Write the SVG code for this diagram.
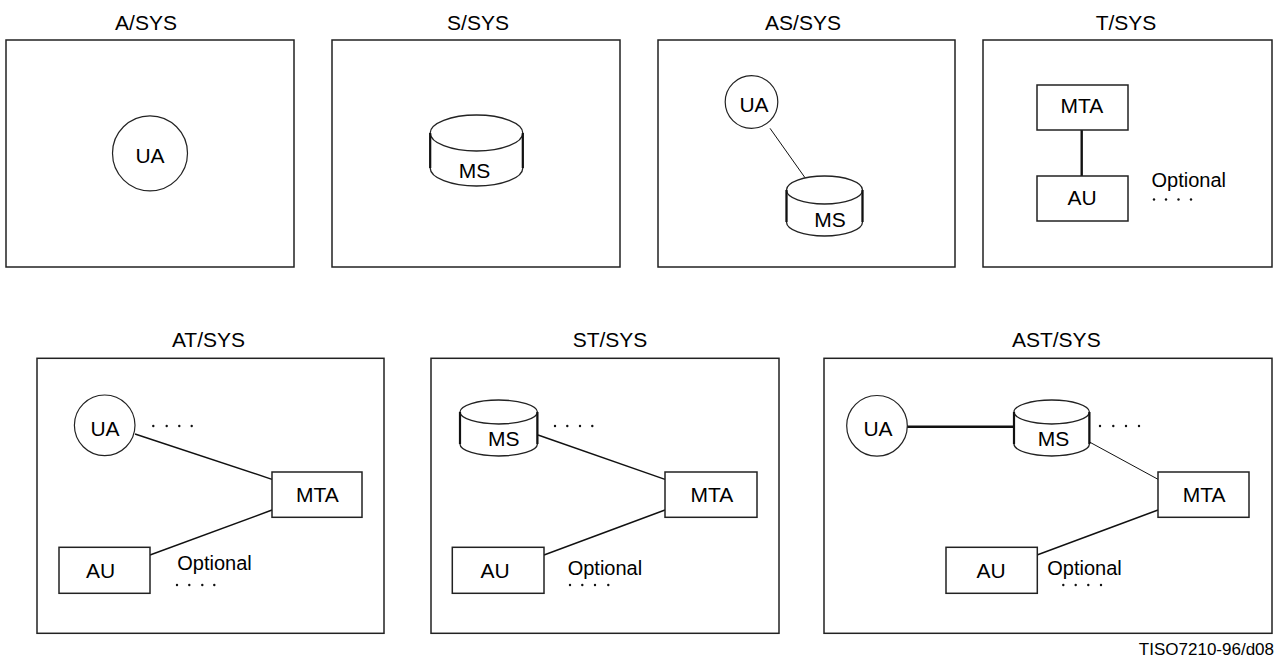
<svg xmlns="http://www.w3.org/2000/svg" width="1276" height="659" viewBox="0 0 1276 659">
<style>
text{font-family:"Liberation Sans",Arial,sans-serif;font-size:21px;fill:#000}
.c{text-anchor:middle}
.opt{font-size:20px}
.frame{fill:none;stroke:#222;stroke-width:1.5}
.box{fill:#fff;stroke:#222;stroke-width:1.5}
.ua{fill:#fff;stroke:#222;stroke-width:1.2}
.cyl{fill:#fff;stroke:#222;stroke-width:1.3}
.side{stroke:#111;stroke-width:2.2}
.ln{stroke:#111;stroke-width:1.4;fill:none}
.thin{stroke:#111;stroke-width:1;fill:none}
.thick{stroke:#111;stroke-width:2.4;fill:none}
.dot{fill:#111}
.foot{font-size:17px;text-anchor:end}
</style>
<rect width="1276" height="659" fill="#fff"/>

<g id="connectors">
<line class="thin" x1="770" y1="128.3" x2="805" y2="177.7"/>
<line class="thick" x1="1081.7" y1="130" x2="1081.7" y2="176"/>
<line class="ln" x1="135" y1="434" x2="272" y2="479.3"/>
<line class="ln" x1="272" y1="510" x2="150" y2="555"/>
<line class="ln" x1="538" y1="435" x2="665" y2="479.3"/>
<line class="ln" x1="665" y1="510" x2="544" y2="555"/>
<line class="thick" x1="907" y1="426.7" x2="1014" y2="426.7"/>
<line class="thin" x1="1090" y1="442.3" x2="1158" y2="479.3"/>
<line class="ln" x1="1158" y1="510" x2="1037" y2="555"/>
</g>

<g id="panel-a">
<text class="c" x="146" y="30">A/SYS</text>
<rect class="frame" x="6" y="40" width="288" height="227"/>
<g id="a-ua"><circle class="ua" cx="150" cy="153.3" r="37.5"/><text class="c" x="150" y="163">UA</text></g>
</g>

<g id="panel-s">
<text class="c" x="478" y="30">S/SYS</text>
<rect class="frame" x="332" y="40" width="288" height="227"/>
<g id="s-ms">
<path class="cyl" d="M430.2,133 L430.2,168 A46.3,18 0 0 0 522.8,168 L522.8,133"/>
<ellipse class="cyl" cx="476.5" cy="133" rx="46.3" ry="18"/>
<line class="side" x1="430.2" y1="133" x2="430.2" y2="168"/>
<line class="side" x1="522.8" y1="133" x2="522.8" y2="168"/>
<text class="c" x="474.5" y="178.3">MS</text>
</g>
</g>

<g id="panel-as">
<text class="c" x="803" y="30">AS/SYS</text>
<rect class="frame" x="658" y="40" width="297" height="227"/>
<g id="as-ua"><circle class="ua" cx="751.5" cy="102" r="26.3"/><text class="c" x="754" y="111.7">UA</text></g>
<g id="as-ms">
<path class="cyl" d="M786.5,190 L786.5,222 A38,14 0 0 0 862.5,222 L862.5,190"/>
<ellipse class="cyl" cx="824.5" cy="190" rx="38" ry="14"/>
<line class="side" x1="786.5" y1="190" x2="786.5" y2="222"/>
<line class="side" x1="862.5" y1="190" x2="862.5" y2="222"/>
<text class="c" x="830" y="226.7">MS</text>
</g>
</g>

<g id="panel-t">
<text class="c" x="1126" y="30">T/SYS</text>
<rect class="frame" x="983" y="40" width="289" height="227"/>
<g id="t-mta"><rect class="box" x="1037" y="85" width="91" height="45"/><text class="c" x="1082" y="113.3">MTA</text></g>
<g id="t-au"><rect class="box" x="1037" y="176" width="91" height="45"/><text class="c" x="1082" y="205">AU</text></g>
<text class="opt" x="1151.5" y="186.7">Optional</text>
<circle class="dot" cx="1154" cy="199.5" r="1.2"/><circle class="dot" cx="1166" cy="199.5" r="1.2"/><circle class="dot" cx="1178.5" cy="199.5" r="1.2"/><circle class="dot" cx="1191" cy="199.5" r="1.2"/>
</g>

<g id="panel-at">
<text class="c" x="208.5" y="347.3">AT/SYS</text>
<rect class="frame" x="37" y="358.3" width="347" height="275"/>
<g id="at-ua"><circle class="ua" cx="104.7" cy="425.3" r="30.3"/><text class="c" x="105" y="435.7">UA</text></g>
<circle class="dot" cx="153.3" cy="426" r="1.2"/><circle class="dot" cx="166.7" cy="426" r="1.2"/><circle class="dot" cx="179.3" cy="426" r="1.2"/><circle class="dot" cx="191.7" cy="426" r="1.2"/>
<g id="at-mta"><rect class="box" x="272" y="472" width="90" height="45.3"/><text class="c" x="317.3" y="502.3">MTA</text></g>
<g id="at-au"><rect class="box" x="59" y="547.3" width="91" height="46"/><text class="c" x="100.7" y="578.3">AU</text></g>
<text class="opt" x="177.3" y="570">Optional</text>
<circle class="dot" cx="177" cy="585" r="1.2"/><circle class="dot" cx="189.3" cy="585" r="1.2"/><circle class="dot" cx="202.3" cy="585" r="1.2"/><circle class="dot" cx="214.3" cy="585" r="1.2"/>
</g>

<g id="panel-st">
<text class="c" x="610" y="347.3">ST/SYS</text>
<rect class="frame" x="431" y="358.3" width="348" height="275"/>
<g id="st-ms">
<path class="cyl" d="M460,412 L460,444 A38.7,12 0 0 0 537.4,444 L537.4,412"/>
<ellipse class="cyl" cx="498.7" cy="412" rx="38.7" ry="12"/>
<line class="side" x1="460" y1="412" x2="460" y2="444"/>
<line class="side" x1="537.4" y1="412" x2="537.4" y2="444"/>
<text class="c" x="503.8" y="445.7">MS</text>
</g>
<circle class="dot" cx="555" cy="426" r="1.2"/><circle class="dot" cx="567.3" cy="426" r="1.2"/><circle class="dot" cx="580" cy="426" r="1.2"/><circle class="dot" cx="592.3" cy="426" r="1.2"/>
<g id="st-mta"><rect class="box" x="665" y="472" width="92" height="45.3"/><text class="c" x="711.8" y="502.3">MTA</text></g>
<g id="st-au"><rect class="box" x="452.3" y="547.3" width="91.7" height="46"/><text class="c" x="495" y="578.3">AU</text></g>
<text class="opt" x="567.7" y="575">Optional</text>
<circle class="dot" cx="570" cy="585" r="1.2"/><circle class="dot" cx="582.3" cy="585" r="1.2"/><circle class="dot" cx="595" cy="585" r="1.2"/><circle class="dot" cx="608.3" cy="585" r="1.2"/>
</g>

<g id="panel-ast">
<text class="c" x="1056.3" y="347.3">AST/SYS</text>
<rect class="frame" x="824" y="358.3" width="448" height="275"/>
<g id="ast-ua"><circle class="ua" cx="877" cy="425.8" r="30.3"/><text class="c" x="878" y="435.7">UA</text></g>
<g id="ast-ms">
<path class="cyl" d="M1014,412 L1014,444 A37.7,12 0 0 0 1089.4,444 L1089.4,412"/>
<ellipse class="cyl" cx="1051.7" cy="412" rx="37.7" ry="12"/>
<line class="side" x1="1014" y1="412" x2="1014" y2="444"/>
<line class="side" x1="1089.4" y1="412" x2="1089.4" y2="444"/>
<text class="c" x="1053.5" y="445.7">MS</text>
</g>
<circle class="dot" cx="1100" cy="426" r="1.2"/><circle class="dot" cx="1113.3" cy="426" r="1.2"/><circle class="dot" cx="1126" cy="426" r="1.2"/><circle class="dot" cx="1139" cy="426" r="1.2"/>
<g id="ast-mta"><rect class="box" x="1158" y="472" width="91" height="45.3"/><text class="c" x="1204.2" y="502.3">MTA</text></g>
<g id="ast-au"><rect class="box" x="946" y="547.3" width="91.3" height="46"/><text class="c" x="991.2" y="578.3">AU</text></g>
<text class="opt" x="1047.3" y="575">Optional</text>
<circle class="dot" cx="1063.3" cy="585" r="1.2"/><circle class="dot" cx="1075.7" cy="585" r="1.2"/><circle class="dot" cx="1088.3" cy="585" r="1.2"/><circle class="dot" cx="1101" cy="585" r="1.2"/>
</g>

<text class="foot" x="1274" y="655">TISO7210-96/d08</text>
</svg>
